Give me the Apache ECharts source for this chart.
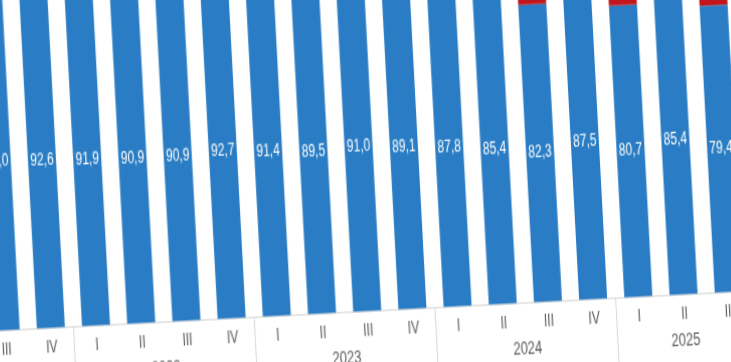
<!DOCTYPE html>
<html>
<head>
<meta charset="utf-8">
<script src="https://cdn.jsdelivr.net/npm/echarts@6/dist/echarts.min.js"></script>
<style>
html,body{margin:0;padding:0;background:#fff;width:731px;height:362px;overflow:hidden;}
#chart{position:absolute;left:0;top:0;width:920px;height:400px;transform-origin:0 0;
transform:translate(-17px,331.2px) rotate(-3.03deg) scale(1,1.4) translate(-100px,-298.2px);}
</style>
</head>
<body>
<div id="chart"></div>
<script>
const quarters = ['III','IV','I','II','III','IV','I','II','III','IV','I','II','III','IV','I','II','III'];
const years = ['2021','2021','2022','2022','2022','2022','2023','2023','2023','2023','2024','2024','2024','2024','2025','2025','2025'];
const blueValues = [93.0, 92.6, 91.9, 90.9, 90.9, 92.7, 91.4, 89.5, 91.0, 89.1, 87.8, 85.4, 82.3, 87.5, 80.7, 85.4, 79.4];
const redValues = [7.0, 7.4, 8.1, 9.1, 9.1, 7.3, 8.6, 10.5, 9.0, 10.9, 12.2, 14.6, 17.7, 12.5, 19.3, 14.6, 20.6];

const categories = quarters.map((q, i) => years[i] + ' ' + q);

// year groups derived from the category lists
const groups = [];
years.forEach((y, i) => {
  const g = groups[groups.length - 1];
  if (g && g.year === y) { g.end = i; } else { groups.push({year: y, start: i, end: i}); }
});
const yearCenters = groups.map(g => (g.start + g.end) / 2);
const yearBoundaries = groups.slice(1).map(g => g.start - 0.5);

const fontFamily = '"Liberation Sans", Arial, sans-serif';
const chart = echarts.init(document.getElementById('chart'), null, {renderer: 'canvas'});
chart.setOption({
  animation: false,
  backgroundColor: '#ffffff',
  grid: {left: 100, top: 40, width: 17 * 45.26, height: 258.2, containLabel: false, outerBoundsMode: 'none'},
  xAxis: [
    {
      type: 'category',
      data: categories,
      position: 'bottom',
      axisLine: {show: true, lineStyle: {color: '#d9d9d9', width: 1}},
      axisTick: {show: false},
      axisLabel: {
        margin: 8, color: '#595959', fontSize: 12, fontFamily: fontFamily,
        formatter: (v, i) => quarters[i]
      },
      splitLine: {show: false}
    },
    {
      type: 'value',
      position: 'bottom',
      min: -0.5,
      max: quarters.length - 0.5,
      axisLine: {show: false},
      splitLine: {show: false},
      axisTick: {show: true, customValues: yearBoundaries, length: 70, lineStyle: {color: '#d9d9d9', width: 1}},
      axisLabel: {
        show: true, customValues: yearCenters, margin: 27, color: '#595959', fontSize: 13, fontFamily: fontFamily,
        formatter: (v) => {
          const k = yearCenters.findIndex(c => Math.abs(c - v) < 1e-6);
          return k >= 0 ? groups[k].year : '';
        }
      }
    }
  ],
  yAxis: {
    type: 'value', min: 0, max: 100, show: false,
    splitLine: {show: false}
  },
  series: [
    {
      type: 'bar', stack: 'total', xAxisIndex: 0, data: blueValues, barWidth: '62%',
      itemStyle: {color: '#2a7dc4'},
      label: {
        show: true, position: 'inside', color: '#ffffff', fontSize: 12, fontFamily: fontFamily,
        formatter: (p) => p.value.toFixed(1).replace('.', ',')
      }
    },
    {
      type: 'bar', stack: 'total', xAxisIndex: 0, data: redValues, barWidth: '62%',
      itemStyle: {color: '#c0161c'},
      label: {show: false}
    }
  ]
});
</script>
</body>
</html>
